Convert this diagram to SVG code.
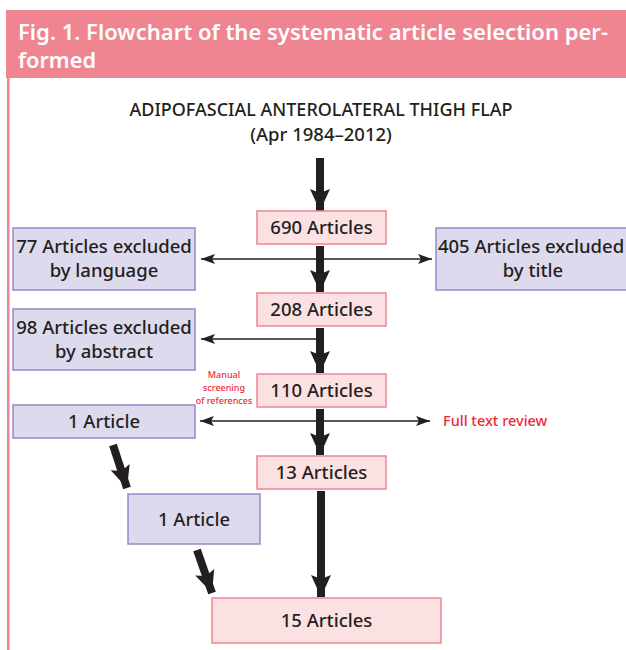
<svg xmlns="http://www.w3.org/2000/svg" width="626" height="650" viewBox="0 0 626 650">
<style>
.pbox{fill:#FCE1E3;stroke:#F08592;stroke-width:1.5}
.vbox{fill:#DEDAED;stroke:#9D86C6;stroke-width:1.5}
.t{font-family:"Noto Sans","Open Sans","Liberation Sans",sans-serif;font-size:18.5px;font-weight:500;fill:#231F20;text-anchor:middle}
.red{font-family:"Noto Sans","Open Sans","Liberation Sans",sans-serif;fill:#EE2A3A;font-weight:500}
.thick{stroke:#231F20;stroke-width:8;fill:none}
.thin{stroke:#231F20;stroke-width:1.5;fill:none}
</style>
<defs>
<marker id="big" markerUnits="userSpaceOnUse" markerWidth="22" markerHeight="24" refX="22" refY="10" orient="auto" viewBox="0 0 22 20">
<path d="M0,0 L22,10 L0,20 L4,10 Z" fill="#231F20"/>
</marker>
<marker id="sm" markerUnits="userSpaceOnUse" markerWidth="14" markerHeight="10" refX="14" refY="5" orient="auto" viewBox="0 0 14 10">
<path d="M0,0 L14,5 L0,10 L3,5 Z" fill="#231F20"/>
</marker>
<marker id="smS" markerUnits="userSpaceOnUse" markerWidth="14" markerHeight="10" refX="0" refY="5" orient="auto" viewBox="0 0 14 10">
<path d="M14,0 L0,5 L14,10 L11,5 Z" fill="#231F20"/>
</marker>
</defs>
<rect x="0" y="0" width="626" height="650" fill="#fff"/>
<g id="header">
<rect x="6" y="10" width="620" height="68" fill="#F08592"/>
<rect x="7" y="78" width="2.5" height="572" fill="#F08592"/>
<text x="18" y="40" font-family="Noto Sans,Open Sans,Liberation Sans,sans-serif" font-weight="600" font-size="21" fill="#fff" textLength="590" lengthAdjust="spacingAndGlyphs">Fig. 1. Flowchart of the systematic article selection per-</text>
<text x="18" y="68" font-family="Noto Sans,Open Sans,Liberation Sans,sans-serif" font-weight="600" font-size="21" fill="#fff" textLength="78" lengthAdjust="spacingAndGlyphs">formed</text>
</g>
<g id="title">
<text class="t" x="321" y="116" font-size="17" font-weight="600" textLength="383" lengthAdjust="spacingAndGlyphs">ADIPOFASCIAL ANTEROLATERAL THIGH FLAP</text>
<text class="t" x="321" y="141" font-size="17" font-weight="600">(Apr 1984–2012)</text>
</g>
<g id="connectors">
<line class="thick" x1="320" y1="158" x2="320" y2="211" marker-end="url(#big)"/>
<line class="thick" x1="320" y1="246" x2="320" y2="292" marker-end="url(#big)"/>
<line class="thick" x1="320" y1="328" x2="320" y2="373" marker-end="url(#big)"/>
<line class="thick" x1="320" y1="409" x2="320" y2="455" marker-end="url(#big)"/>
<line class="thick" x1="321" y1="491" x2="321" y2="597" marker-end="url(#big)"/>
<line class="thick" x1="113" y1="445" x2="127" y2="488" marker-end="url(#big)"/>
<line class="thick" x1="197" y1="550" x2="212" y2="593" marker-end="url(#big)"/>
<line class="thin" x1="201" y1="259" x2="432" y2="259" marker-start="url(#smS)" marker-end="url(#sm)"/>
<line class="thin" x1="320" y1="339" x2="201" y2="339" marker-end="url(#sm)"/>
<line class="thin" x1="200" y1="421" x2="430" y2="421" marker-start="url(#smS)" marker-end="url(#sm)"/>
</g>
<g id="n690"><rect class="pbox" x="257" y="211" width="129" height="33"/><text class="t" x="321.5" y="234">690 Articles</text></g>
<g id="n77"><rect class="vbox" x="13" y="228" width="182" height="62"/><text class="t" x="104" y="253">77 Articles excluded</text><text class="t" x="104" y="277">by language</text></g>
<g id="n405"><rect class="vbox" x="436" y="228" width="198" height="62"/><text class="t" x="531" y="253">405 Articles excluded</text><text class="t" x="533" y="277">by title</text></g>
<g id="n208"><rect class="pbox" x="257" y="293" width="129" height="33"/><text class="t" x="321.5" y="316">208 Articles</text></g>
<g id="n98"><rect class="vbox" x="13" y="309" width="182" height="61"/><text class="t" x="104" y="334">98 Articles excluded</text><text class="t" x="104" y="358">by abstract</text></g>
<g id="manual"><text class="red" font-size="9" text-anchor="middle" x="224" y="378">Manual</text><text class="red" font-size="9" text-anchor="middle" x="224" y="391">screening</text><text class="red" font-size="9" text-anchor="middle" x="224" y="404">of references</text></g>
<g id="n110"><rect class="pbox" x="257" y="374" width="129" height="33"/><text class="t" x="321.5" y="397">110 Articles</text></g>
<g id="n1a"><rect class="vbox" x="13" y="405" width="182" height="33"/><text class="t" x="104" y="428">1 Article</text></g>
<g id="fulltext"><text class="red" font-size="14.5" x="443" y="426">Full text review</text></g>
<g id="n13"><rect class="pbox" x="257" y="456" width="129" height="33"/><text class="t" x="321.5" y="479">13 Articles</text></g>
<g id="n1b"><rect class="vbox" x="128" y="494" width="132" height="50"/><text class="t" x="194" y="526">1 Article</text></g>
<g id="n15"><rect class="pbox" x="212" y="598" width="229" height="45"/><text class="t" x="326.5" y="627">15 Articles</text></g>
</svg>
